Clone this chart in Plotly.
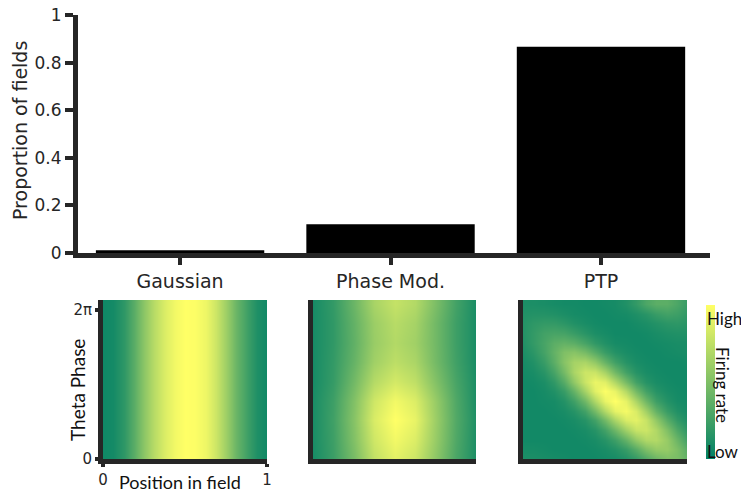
import plotly.graph_objects as go

# ---------------- data ----------------
categories = ["Gaussian", "Phase Mod.", "PTP"]
proportions = [0.012, 0.121, 0.867]

y_tick_vals = [0, 0.2, 0.4, 0.6, 0.8, 1]
y_tick_text = ["0", "0.2", "0.4", "0.6", "0.8", "1"]

# heatmap grids (normalised position 0..1, normalised theta phase 0..1)
gauss_x = [0, 0.0625, 0.125, 0.1875, 0.25, 0.3125, 0.375, 0.4375, 0.5,
           0.5625, 0.625, 0.6875, 0.75, 0.8125, 0.875, 0.9375, 1]
gauss_y = [0, 1]
gauss_profile = [0.06, 0.08, 0.18, 0.35, 0.55, 0.72, 0.86, 0.95, 1.0,
                 0.99, 0.93, 0.80, 0.62, 0.42, 0.25, 0.12, 0.07]

grid_x = [0, 0.125, 0.25, 0.375, 0.5, 0.625, 0.75, 0.875, 1]
grid_y = [0, 0.125, 0.25, 0.375, 0.5, 0.625, 0.75, 0.875, 1]

phase_mod_rate = [
    [0.09, 0.23, 0.47, 0.76, 0.89, 0.80, 0.56, 0.29, 0.11],
    [0.10, 0.24, 0.51, 0.81, 0.95, 0.86, 0.60, 0.31, 0.11],
    [0.10, 0.25, 0.53, 0.85, 1.00, 0.91, 0.62, 0.32, 0.12],
    [0.10, 0.24, 0.51, 0.81, 0.95, 0.86, 0.60, 0.31, 0.11],
    [0.09, 0.21, 0.45, 0.71, 0.83, 0.75, 0.52, 0.28, 0.11],
    [0.09, 0.20, 0.40, 0.63, 0.74, 0.67, 0.46, 0.25, 0.10],
    [0.09, 0.19, 0.38, 0.60, 0.70, 0.63, 0.45, 0.24, 0.10],
    [0.09, 0.19, 0.39, 0.61, 0.72, 0.65, 0.45, 0.24, 0.10],
    [0.09, 0.20, 0.42, 0.66, 0.77, 0.70, 0.49, 0.26, 0.10],
]

fine_x = [0, 0.0625, 0.125, 0.1875, 0.25, 0.3125, 0.375, 0.4375, 0.5,
          0.5625, 0.625, 0.6875, 0.75, 0.8125, 0.875, 0.9375, 1]
fine_y = fine_x

ptp_rate = [
    [.11, .11, .10, .09, .08, .07, .07, .07, .08, .09, .13, .20, .31, .42, .49, .48, .40],
    [.09, .09, .08, .07, .07, .07, .07, .08, .10, .14, .22, .35, .50, .59, .59, .49, .35],
    [.07, .07, .07, .07, .07, .07, .08, .10, .15, .24, .39, .57, .69, .70, .59, .42, .26],
    [.07, .07, .07, .07, .07, .08, .10, .15, .26, .43, .63, .78, .80, .69, .50, .31, .18],
    [.07, .07, .07, .07, .08, .10, .15, .26, .45, .67, .85, .89, .78, .57, .35, .20, .12],
    [.07, .07, .07, .08, .10, .15, .26, .46, .70, .90, .96, .85, .63, .39, .22, .13, .09],
    [.07, .07, .08, .09, .14, .25, .44, .69, .91, 1.0, .90, .67, .43, .24, .14, .09, .08],
    [.07, .07, .09, .13, .22, .40, .65, .88, .99, .91, .70, .45, .26, .15, .10, .08, .07],
    [.07, .08, .11, .19, .34, .57, .79, .92, .88, .69, .46, .26, .15, .10, .08, .07, .07],
    [.08, .10, .16, .28, .46, .67, .80, .79, .65, .44, .26, .15, .10, .08, .07, .07, .07],
    [.09, .13, .22, .36, .53, .65, .67, .57, .40, .25, .15, .10, .08, .07, .07, .07, .08],
    [.11, .17, .27, .39, .50, .53, .46, .34, .22, .14, .10, .08, .07, .07, .08, .09, .10],
    [.13, .20, .28, .36, .39, .36, .28, .19, .13, .09, .08, .07, .07, .08, .09, .10, .10],
    [.14, .20, .26, .28, .27, .22, .16, .11, .09, .07, .07, .07, .08, .10, .12, .13, .13],
    [.14, .18, .20, .20, .17, .13, .10, .08, .07, .07, .07, .09, .11, .14, .17, .18, .16],
    [.13, .14, .14, .13, .11, .09, .08, .07, .07, .08, .09, .12, .16, .22, .26, .24, .19],
    [.11, .11, .10, .09, .08, .08, .07, .07, .08, .09, .13, .20, .30, .36, .36, .30, .22],
]

summer = [[0, "#008066"], [1, "#ffff66"]]

W, H = 741, 494
AX = "#262626"
TXT = "#262626"


def px(x):
    return x / W


def py(y):
    return 1 - y / H


fig = go.Figure()

fig.add_trace(go.Bar(x=categories, y=proportions, marker_color="#000000",
                     marker_line_width=0, xaxis="x", yaxis="y",
                     showlegend=False))

gauss_z = [gauss_profile for _ in gauss_y]
fig.add_trace(go.Heatmap(x=gauss_x, y=gauss_y, z=gauss_z, zsmooth="best",
                         coloraxis="coloraxis", xaxis="x2", yaxis="y2"))
fig.add_trace(go.Heatmap(x=grid_x, y=grid_y, z=phase_mod_rate, zsmooth="best",
                         coloraxis="coloraxis", xaxis="x3", yaxis="y3"))
fig.add_trace(go.Heatmap(x=fine_x, y=fine_y, z=ptp_rate, zsmooth="best",
                         coloraxis="coloraxis", xaxis="x4", yaxis="y4"))

top_font = dict(family="DejaVu Sans", size=17, color=TXT)
x_font = dict(family="DejaVu Sans", size=19, color=TXT)
small_font = dict(family="DejaVu Sans", size=15, color=TXT)
lato = "Lato"

fig.update_layout(
    width=W, height=H,
    margin=dict(l=0, r=0, t=0, b=0, autoexpand=False),
    paper_bgcolor="white", plot_bgcolor="white",
    bargap=0.2,
    xaxis=dict(domain=[px(78), px(710)], range=[-0.485, 2.518],
               showline=True, linewidth=5, linecolor=AX, showgrid=False,
               zeroline=False, ticks="outside", ticklen=7, tickwidth=4,
               tickcolor=AX, tickfont=x_font, anchor="y", automargin=False),
    yaxis=dict(domain=[py(253), py(15)], range=[0, 1],
               showline=True, linewidth=5, linecolor=AX, showgrid=False,
               zeroline=False, ticks="outside", ticklen=8, tickwidth=4,
               tickcolor=AX, tickvals=y_tick_vals, ticktext=y_tick_text,
               tickfont=top_font, anchor="x", automargin=False),
    coloraxis=dict(
        colorscale=summer, cmin=0, cmax=1,
        colorbar=dict(x=px(706), xanchor="left", thickness=9,
                      y=py(382), yanchor="middle", len=154, lenmode="pixels",
                      outlinewidth=0, showticklabels=False, ticks="",
                      xpad=0, ypad=0),
    ),
)

panel_x = [(103, 267), (313, 476), (523, 687)]
for i, (x0, x1) in enumerate(panel_x):
    n = i + 2
    first = (i == 0)
    fig.update_layout(**{
        f"xaxis{n}": dict(domain=[px(x0), px(x1)], range=[0, 1],
                          showline=True, linewidth=5, linecolor=AX,
                          showgrid=False, zeroline=False,
                          ticks="outside" if first else "", ticklen=3,
                          tickwidth=4, tickcolor=AX,
                          tickvals=[0, 1] if first else [],
                          ticktext=["0", "1"] if first else [],
                          showticklabels=first, tickfont=small_font,
                          anchor=f"y{n}", automargin=False),
        f"yaxis{n}": dict(domain=[py(459), py(300)], range=[0, 1.026],
                          showline=True, linewidth=5, linecolor=AX,
                          showgrid=False, zeroline=False,
                          ticks="outside" if first else "", ticklen=3,
                          tickwidth=4, tickcolor=AX,
                          tickvals=[0, 0.96] if first else [],
                          ticktext=["0", "2π"] if first else [],
                          showticklabels=first, tickfont=small_font,
                          anchor=f"x{n}", automargin=False),
    })

annotations = [
    dict(text="Proportion of fields", x=px(20), y=py(131), textangle=-90,
         font=dict(family="DejaVu Sans", size=19, color=TXT)),
    dict(text="Theta Phase", x=px(77), y=py(390), textangle=-90,
         font=dict(family=lato, size=19, color="#111111")),
    dict(text="Position in field", x=px(180), y=py(482),
         font=dict(family=lato, size=18, color="#111111")),
    dict(text="High", x=px(705), y=py(318), xanchor="left",
         font=dict(family=lato, size=17, color="#111111")),
    dict(text="Low", x=px(705), y=py(451), xanchor="left",
         font=dict(family=lato, size=17, color="#111111")),
    dict(text="Firing rate", x=px(723), y=py(385), textangle=90,
         font=dict(family=lato, size=17, color="#111111")),
]
for a in annotations:
    a.update(xref="paper", yref="paper", showarrow=False)
    a.setdefault("xanchor", "center")
    a.setdefault("yanchor", "middle")
fig.update_layout(annotations=annotations)

fig.write_html("out.html",
               config={"displayModeBar": False},
               post_script="document.body.style.margin='0';"
                           "document.body.style.overflow='hidden';")
